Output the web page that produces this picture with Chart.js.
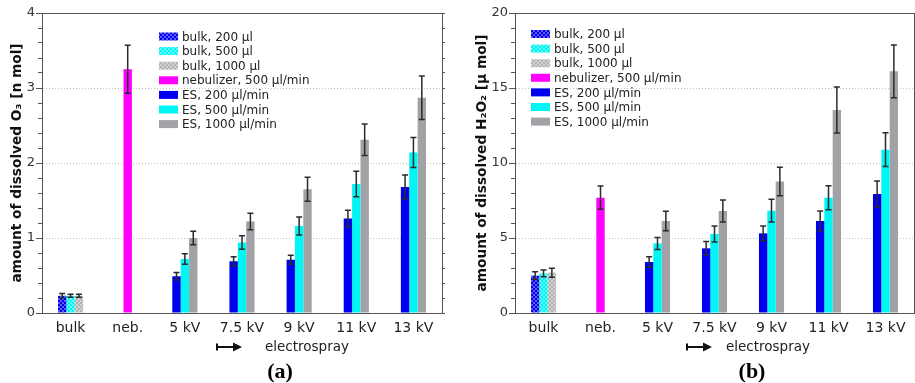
<!DOCTYPE html>
<html>
<head>
<meta charset="utf-8">
<script src="https://cdn.jsdelivr.net/npm/chart.js@4.4.1/dist/chart.umd.min.js"></script>
<style>
  body { margin: 0; background: #fff; }
  .panel { position: absolute; top: 0; }
</style>
</head>
<body>
<div class="panel" style="left:0"><canvas id="chartO3" width="455" height="383"></canvas></div>
<div class="panel" style="left:455px"><canvas id="chartH2O2" width="460" height="383"></canvas></div>
<script>
// categories along the x axis
const categories = ['bulk', 'neb.', '5 kV', '7.5 kV', '9 kV', '11 kV', '13 kV'];
const seriesNames = ['bulk, 200 µl', 'bulk, 500 µl', 'bulk, 1000 µl', 'nebulizer, 500 µl/min',
                     'ES, 200 µl/min', 'ES, 500 µl/min', 'ES, 1000 µl/min'];

// dissolved O3 [n mol]  (bulk: 200 / 500 / 1000 µl)
const o3Bulk = [0.23, 0.23, 0.23];
const o3BulkErr = [0.03, 0.02, 0.02];
const o3Neb = [3.25];
const o3NebErr = [0.32];
// electrospray, 5 / 7.5 / 9 / 11 / 13 kV
const o3Es200 = [0.49, 0.69, 0.71, 1.26, 1.68];
const o3Es200Err = [0.05, 0.06, 0.06, 0.11, 0.16];
const o3Es500 = [0.72, 0.94, 1.16, 1.72, 2.14];
const o3Es500Err = [0.07, 0.09, 0.12, 0.17, 0.20];
const o3Es1000 = [1.00, 1.22, 1.65, 2.31, 2.87];
const o3Es1000Err = [0.09, 0.11, 0.16, 0.21, 0.29];
const o3Ticks = [0, 1, 2, 3, 4];

// dissolved H2O2 [µ mol]
const h2o2Bulk = [2.49, 2.64, 2.69];
const h2o2BulkErr = [0.26, 0.23, 0.30];
const h2o2Neb = [7.69];
const h2o2NebErr = [0.78];
const h2o2Es200 = [3.40, 4.31, 5.31, 6.13, 7.93];
const h2o2Es200Err = [0.35, 0.45, 0.49, 0.67, 0.87];
const h2o2Es500 = [4.64, 5.27, 6.82, 7.69, 10.89];
const h2o2Es500Err = [0.40, 0.53, 0.76, 0.80, 1.13];
const h2o2Es1000 = [6.13, 6.80, 8.76, 13.53, 16.11];
const h2o2Es1000Err = [0.65, 0.73, 0.95, 1.53, 1.76];
const h2o2Ticks = [0, 5, 10, 15, 20];

Chart.defaults.font.family = "'DejaVu Sans', sans-serif";
Chart.defaults.color = '#222';

const BLUE = '#0000f0', CYAN = '#00f5f5', GRAY = '#a2a2a6', MAGENTA = '#ff00ff';

// small dotted tile for the bulk bars
function dotPattern(color) {
  const c = document.createElement('canvas');
  c.width = 4; c.height = 4;
  const g = c.getContext('2d');
  g.fillStyle = color;
  g.fillRect(0, 0, 4, 4);
  g.fillStyle = 'rgba(255,255,255,0.85)';
  [[1, 1], [3, 3]].forEach(([x, y]) => { g.beginPath(); g.arc(x, y, 0.8, 0, Math.PI * 2); g.fill(); });
  return g.createPattern(c, 'repeat');
}
const fills = [dotPattern(BLUE), dotPattern(CYAN), dotPattern('#b4b4b4'), MAGENTA, BLUE, CYAN, GRAY];

// spread a few values over the category slots
const place = (start, vals) => categories.map((c, i) => (i >= start && i < start + vals.length) ? vals[i - start] : null);
const single = (idx, vals, k) => categories.map((c, i) => i === idx ? vals[k] : null);

function buildDatasets(bulk, bulkErr, neb, nebErr, e200, e200Err, e500, e500Err, e1000, e1000Err) {
  const rows = [
    [single(0, bulk, 0), single(0, bulkErr, 0), 's1'],
    [single(0, bulk, 1), single(0, bulkErr, 1), 's2'],
    [single(0, bulk, 2), single(0, bulkErr, 2), 's3'],
    [single(1, neb, 0), single(1, nebErr, 0), 's2'],
    [place(2, e200), place(2, e200Err), 's1'],
    [place(2, e500), place(2, e500Err), 's2'],
    [place(2, e1000), place(2, e1000Err), 's3']
  ];
  return rows.map((r, i) => ({
    label: seriesNames[i],
    data: r[0],
    errors: r[1],
    stack: r[2],
    backgroundColor: fills[i],
    borderWidth: 0,
    categoryPercentage: 0.44,
    barPercentage: 1.0
  }));
}

const errorBars = {
  id: 'errorBars',
  afterDatasetsDraw(chart) {
    const { ctx } = chart;
    const y = chart.scales.y;
    ctx.save();
    ctx.strokeStyle = '#2b2b2b';
    ctx.lineWidth = 1.5;
    chart.data.datasets.forEach((ds, di) => {
      const meta = chart.getDatasetMeta(di);
      ds.data.forEach((v, i) => {
        if (v == null) return;
        const x = meta.data[i].x;
        const top = y.getPixelForValue(v + ds.errors[i]);
        const bot = y.getPixelForValue(v - ds.errors[i]);
        ctx.beginPath();
        ctx.moveTo(x, top); ctx.lineTo(x, bot);
        ctx.moveTo(x - 3, top); ctx.lineTo(x + 3, top);
        ctx.moveTo(x - 3, bot); ctx.lineTo(x + 3, bot);
        ctx.stroke();
      });
    });
    ctx.restore();
  }
};

// top frame line, longer major ticks, legend list, electrospray arrow and panel tag
const panelDecor = {
  id: 'panelDecor',
  afterDraw(chart, args, o) {
    const { ctx, chartArea: a } = chart;
    const y = chart.scales.y;
    ctx.save();
    ctx.strokeStyle = '#555';
    ctx.lineWidth = 1;
    ctx.beginPath();
    ctx.moveTo(a.left, a.top + 0.5); ctx.lineTo(a.right, a.top + 0.5);
    y.ticks.forEach(t => {
      if (t.label === '') return;
      const py = Math.round(y.getPixelForValue(t.value)) + 0.5;
      ctx.moveTo(a.left - 6, py); ctx.lineTo(a.left - 3, py);
    });
    ctx.stroke();

    ctx.font = "12px 'DejaVu Sans'";
    ctx.textBaseline = 'middle';
    chart.data.datasets.forEach((ds, i) => {
      const cy = o.legendY + i * o.rowGap;
      ctx.fillStyle = ds.backgroundColor;
      ctx.fillRect(o.legendX, cy - 4, 19, 8);
      ctx.fillStyle = '#222';
      ctx.fillText(ds.label, o.legendX + 23, cy + 1);
    });

    // arrow with a start bar
    const ay = o.arrowY;
    ctx.strokeStyle = '#111';
    ctx.fillStyle = '#111';
    ctx.lineWidth = 2;
    ctx.beginPath();
    ctx.moveTo(o.arrowX0, ay - 3.5); ctx.lineTo(o.arrowX0, ay + 3.5);
    ctx.moveTo(o.arrowX0, ay); ctx.lineTo(o.arrowX1 - 6, ay);
    ctx.stroke();
    ctx.beginPath();
    ctx.moveTo(o.arrowX1, ay); ctx.lineTo(o.arrowX1 - 9, ay - 4.5); ctx.lineTo(o.arrowX1 - 9, ay + 4.5);
    ctx.closePath(); ctx.fill();

    ctx.fillStyle = '#222';
    ctx.font = "13.5px 'DejaVu Sans'";
    ctx.textAlign = 'left';
    ctx.fillText('electrospray', o.textX, ay);

    ctx.font = "bold 22px 'Liberation Serif'";
    ctx.textAlign = 'center';
    ctx.fillStyle = '#000';
    ctx.fillText(o.tag, o.tagX, o.tagY);
    ctx.restore();
  }
};

function makeChart(id, datasets, yTicks, minorStep, title, axisWidth, titlePad, padRight, decor) {
  const yMin = yTicks[0], yMax = yTicks[yTicks.length - 1];
  const majorStep = yTicks[1] - yTicks[0];
  const isMajor = v => Math.abs(v / majorStep - Math.round(v / majorStep)) < 1e-6;
  return new Chart(document.getElementById(id), {
    type: 'bar',
    data: { labels: categories, datasets: datasets },
    options: {
      responsive: false,
      animation: false,
      devicePixelRatio: 1,
      layout: { padding: { left: 0, top: 13, right: padRight, bottom: 0 } },
      plugins: { legend: { display: false }, tooltip: { enabled: false }, panelDecor: decor },
      scales: {
        x: {
          grid: { display: false, drawTicks: false },
          border: { display: true, color: '#555', width: 1 },
          ticks: { font: { size: 14 }, color: '#222', padding: 7 },
          afterFit: s => { s.height = 70; }
        },
        y: {
          stacked: false,
          min: yMin, max: yMax,
          ticks: {
            stepSize: minorStep, autoSkip: false, padding: 3, color: '#333', font: { size: 13 },
            callback: v => isMajor(v) ? String(Math.round(v)) : ''
          },
          grid: {
            tickLength: 4,
            tickColor: '#555',
            color: c => (c.tick && isMajor(c.tick.value) && c.tick.value > yMin && c.tick.value < yMax) ? '#c4c4c4' : 'rgba(0,0,0,0)'
          },
          border: { color: '#555', dash: [1, 2] },
          title: { display: true, text: title, font: { size: 13.7, weight: 'bold' }, color: '#111', padding: { top: titlePad, bottom: 0 } },
          afterFit: s => { s.width = axisWidth; }
        },
        y2: {
          position: 'right',
          min: yMin, max: yMax,
          ticks: { display: false, stepSize: minorStep, autoSkip: false },
          grid: { drawOnChartArea: false, tickLength: 3, tickColor: '#555' },
          border: { color: '#555' },
          afterFit: s => { s.width = 0; }
        }
      }
    },
    plugins: [errorBars, panelDecor]
  });
}

makeChart('chartO3',
  buildDatasets(o3Bulk, o3BulkErr, o3Neb, o3NebErr, o3Es200, o3Es200Err, o3Es500, o3Es500Err, o3Es1000, o3Es1000Err),
  o3Ticks, 0.2, 'amount of dissolved O₃ [n mol]', 42, 9.5, 13,
  { legendX: 159, legendY: 36.5, rowGap: 14.6, arrowX0: 217, arrowX1: 242, arrowY: 347, textX: 265, tag: '(a)', tagX: 280, tagY: 372 });

makeChart('chartH2O2',
  buildDatasets(h2o2Bulk, h2o2BulkErr, h2o2Neb, h2o2NebErr, h2o2Es200, h2o2Es200Err, h2o2Es500, h2o2Es500Err, h2o2Es1000, h2o2Es1000Err),
  h2o2Ticks, 1, 'amount of dissolved H₂O₂ [µ mol]', 60, 19.5, 1,
  { legendX: 76, legendY: 34, rowGap: 14.6, arrowX0: 232, arrowX1: 257, arrowY: 347, textX: 271, tag: '(b)', tagX: 297, tagY: 372 });
</script>
</body>
</html>
